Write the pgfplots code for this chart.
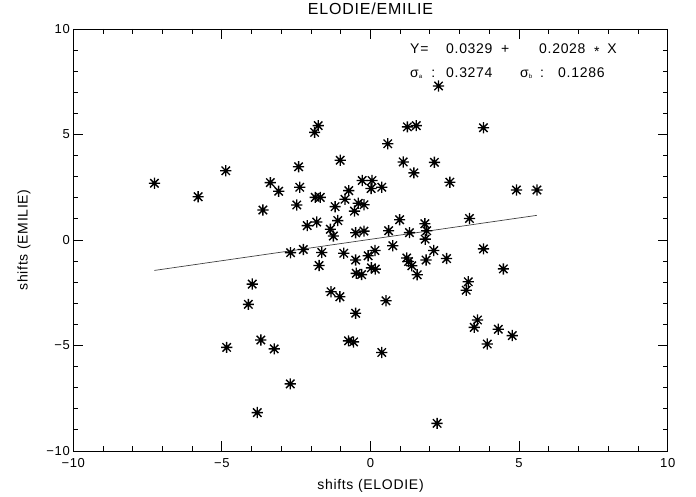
\documentclass[border=0pt]{standalone}
\usepackage{pgfplots}
\pgfplotsset{compat=1.18}
\usepackage{fontspec}
\setmainfont{Liberation Sans}[LetterSpace=5]
\pgfdeclareplotmark{idlstar}{%
  \pgfpathmoveto{\pgfqpoint{-\pgfplotmarksize}{0pt}}\pgfpathlineto{\pgfqpoint{\pgfplotmarksize}{0pt}}%
  \pgfpathmoveto{\pgfqpoint{0pt}{-\pgfplotmarksize}}\pgfpathlineto{\pgfqpoint{0pt}{\pgfplotmarksize}}%
  \pgfpathmoveto{\pgfqpoint{-.75\pgfplotmarksize}{-.75\pgfplotmarksize}}\pgfpathlineto{\pgfqpoint{.75\pgfplotmarksize}{.75\pgfplotmarksize}}%
  \pgfpathmoveto{\pgfqpoint{-.75\pgfplotmarksize}{.75\pgfplotmarksize}}\pgfpathlineto{\pgfqpoint{.75\pgfplotmarksize}{-.75\pgfplotmarksize}}%
  \pgfusepathqstroke}
\begin{document}
\begin{tikzpicture}[x=1pt,y=1pt]
\useasboundingbox (0,0) rectangle (696,497);
\begin{axis}[
  at={(73.3pt,46pt)}, anchor=south west,
  width=594.4pt, height=422pt, scale only axis,
  xmin=-10, xmax=10, ymin=-10, ymax=10,
  xtick={-10,-5,0,5,10}, xticklabels={−10,−5,0,5,10},
  ytick={-10,-5,0,5,10}, yticklabels={−10,−5,0,5,10},
  minor tick num=4,
  tick align=inside, tick pos=both,
  major tick length=10pt, minor tick length=5pt,
  axis line style={line width=0.9pt},
  tick style={line width=0.9pt, black},
  tick label style={font=\fontsize{13}{13}\selectfont},
  xticklabel style={yshift=-4pt},
  title={ELODIE/EMILIE},
  title style={at={(axis description cs:0.5,1.019)}, anchor=base, font=\fontsize{16}{16}\selectfont},
  xlabel={shifts (ELODIE)},
  every axis x label/.style={at={(axis description cs:0.5,-0.0924)}, anchor=base, font=\fontsize{14}{14}\selectfont},
  ylabel={shifts (EMILIE)},
  every axis y label/.style={at={(axis description cs:-0.0829,0.5)}, rotate=90, anchor=center, font=\fontsize{14}{14}\selectfont},
  clip=false,
]
\addplot[only marks, mark=idlstar, mark size=5.6pt, mark options={line width=1.35pt, black}] coordinates {
(-7.27,2.69) (-5.80,2.05) (-4.87,3.28) (-3.37,2.72) (-3.09,2.31) (-3.62,1.42)
(-2.42,3.47) (-2.38,2.50) (-2.48,1.66) (-1.88,5.10) (-1.76,5.42) (-1.86,2.02)
(-1.69,2.02) (-1.02,3.78) (-1.19,1.58) (-0.86,1.93) (-0.73,2.34) (-2.13,0.68)
(-1.81,0.85) (-1.35,0.51) (-1.25,0.19) (-1.10,0.92) (2.29,7.30) (1.24,5.36)
(1.54,5.42) (3.80,5.32) (0.58,4.56) (1.10,3.70) (2.15,3.68) (1.46,3.18)
(2.67,2.74) (4.91,2.37) (5.60,2.37) (-0.28,2.82) (0.05,2.82) (0.02,2.44)
(0.38,2.50) (-0.41,1.74) (-0.22,1.67) (-0.54,1.37) (0.98,0.96) (3.33,1.02)
(1.83,0.77) (-0.50,0.34) (-0.22,0.42) (0.61,0.44) (1.31,0.35) (1.89,0.44)
(1.84,0.04) (0.75,-0.27) (3.80,-0.42) (0.15,-0.50) (2.13,-0.50) (-2.69,-0.60)
(-2.26,-0.45) (-1.64,-0.59) (-0.90,-0.63) (-1.73,-1.21) (-3.98,-2.09) (-4.11,-3.05)
(-1.33,-2.45) (-1.03,-2.69) (-3.69,-4.74) (-4.84,-5.09) (-3.24,-5.16) (-0.74,-4.78)
(-0.57,-4.83) (-2.70,-6.82) (-3.81,-8.18) (-0.50,-0.95) (-0.08,-0.75) (-0.48,-1.58)
(-0.30,-1.64) (0.03,-1.32) (0.16,-1.38) (1.22,-0.85) (1.28,-1.02) (1.39,-1.22)
(1.57,-1.65) (1.87,-0.95) (2.56,-0.88) (4.47,-1.37) (3.29,-1.98) (3.22,-2.38)
(0.52,-2.88) (-0.50,-3.47) (3.60,-3.79) (3.49,-4.14) (4.30,-4.23) (4.77,-4.53)
(3.93,-4.93) (0.38,-5.33) (2.24,-8.69)
};
\addplot[no marks, line width=0.7pt, black!75] coordinates {(-7.27,-1.442) (5.60,1.169)};
\begin{scope}[every node/.style={anchor=base west, inner sep=0pt, font=\fontsize{14}{14}\selectfont}]
\node at (axis cs:1.33,8.86) {Y=};
\node at (axis cs:2.54,8.86) {0.0329};
\node at (axis cs:4.39,8.86) {+};
\node at (axis cs:5.67,8.86) {0.2028};
\node at (axis cs:7.52,8.86) {\raisebox{-0.22em}{*}};
\node at (axis cs:7.96,8.86) {X};
\node at (axis cs:1.33,7.68) {σ\raisebox{-1pt}{\fontsize{6}{6}\selectfont a}};
\node at (axis cs:2.04,7.68) {:};
\node at (axis cs:2.54,7.68) {0.3274};
\node at (axis cs:5.03,7.68) {σ\raisebox{-1pt}{\fontsize{6}{6}\selectfont b}};
\node at (axis cs:5.70,7.68) {:};
\node at (axis cs:6.31,7.68) {0.1286};
\end{scope}
\end{axis}
\end{tikzpicture}
\end{document}
